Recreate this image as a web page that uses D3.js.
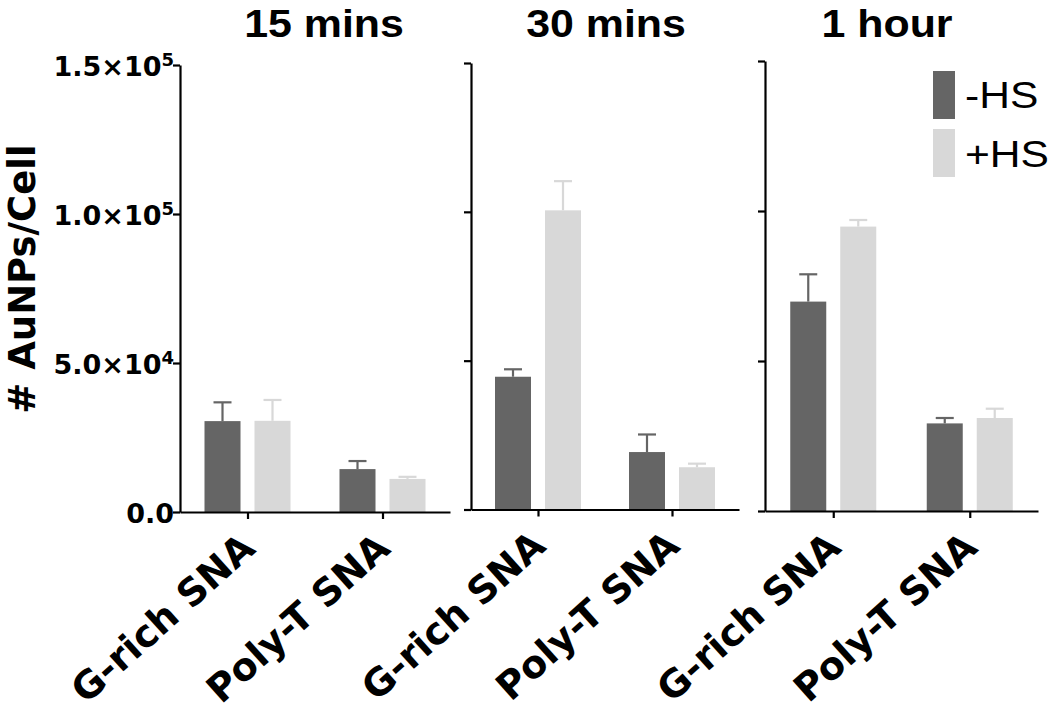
<!DOCTYPE html>
<html><head><meta charset="utf-8">
<script src="https://cdn.jsdelivr.net/npm/d3@7"></script>
<style>body{margin:0;background:#fff}</style>
</head><body>
<svg id="chart" width="1050" height="720"></svg>
<script>
// ---- data ----
const panels = ["15 mins", "30 mins", "1 hour"];
const categories = ["G-rich SNA", "Poly-T SNA"];
const series = ["-HS", "+HS"];
// values per panel: [G-rich, Poly-T]
const meanMinusHS = [[30500, 14400], [44600, 19300], [69800, 29200]];
const meanPlusHS  = [[30600, 11100], [100500, 14200], [94800, 31000]];
const errMinusHS  = [[6300, 2700], [2500, 5900], [9100, 1800]];
const errPlusHS   = [[7000, 700], [9800, 1200], [2200, 3100]];
const yTickValues = [0, 50000, 100000, 150000];
const yTickMantissa = ["0.0", "5.0×10", "1.0×10", "1.5×10"];
const yTickExponent = ["", "4", "5", "5"];
const yMax = 150000;
const yTitle = "# AuNPs/Cell";

// ---- layout ----
const layout = [
  {x0: 180, w: 270, yb: 512, yt: 65, tx: 324},
  {x0: 471, w: 268, yb: 509.5, yt: 63, tx: 606},
  {x0: 765, w: 273, yb: 511, yt: 61, tx: 887}
];
const colors = {"-HS": "#656565", "+HS": "#d8d8d8"};
const capW = 18;

const svg = d3.select("#chart");

panels.forEach((p, pi) => {
  const L = layout[pi];
  const g = svg.append("g");
  const x0 = d3.scalePoint().domain(categories).range([L.x0, L.x0 + L.w]).padding(0.5);
  const x1 = d3.scaleBand().domain(series).range([-50, 50]).paddingInner(0.28).paddingOuter(0.14);
  const y = d3.scaleLinear().domain([0, yMax]).range([L.yb, L.yt]);

  const rows = [];
  categories.forEach((c, ci) => {
    rows.push({c, s: "-HS", v: meanMinusHS[pi][ci], e: errMinusHS[pi][ci]});
    rows.push({c, s: "+HS", v: meanPlusHS[pi][ci], e: errPlusHS[pi][ci]});
  });

  // bars
  g.selectAll("rect.bar").data(rows).join("rect")
    .attr("class", "bar")
    .attr("x", d => x0(d.c) + x1(d.s))
    .attr("width", x1.bandwidth())
    .attr("y", d => y(d.v))
    .attr("height", d => y(0) - y(d.v))
    .attr("fill", d => colors[d.s]);

  // error bars (upper only)
  const eg = g.selectAll("g.err").data(rows).join("g").attr("class", "err")
    .attr("stroke", d => colors[d.s]).attr("stroke-width", 2.2);
  eg.append("line")
    .attr("x1", d => x0(d.c) + x1(d.s) + x1.bandwidth() / 2)
    .attr("x2", d => x0(d.c) + x1(d.s) + x1.bandwidth() / 2)
    .attr("y1", d => y(d.v))
    .attr("y2", d => y(d.v + d.e));
  eg.append("line")
    .attr("x1", d => x0(d.c) + x1(d.s) + x1.bandwidth() / 2 - capW / 2)
    .attr("x2", d => x0(d.c) + x1(d.s) + x1.bandwidth() / 2 + capW / 2)
    .attr("y1", d => y(d.v + d.e))
    .attr("y2", d => y(d.v + d.e));

  // y axis
  const ya = g.append("g").attr("transform", `translate(${L.x0},0)`)
    .call(d3.axisLeft(y).tickValues(yTickValues).tickSize(7).tickSizeOuter(0));
  ya.select(".domain").attr("stroke", "#000").attr("stroke-width", 2.2);
  ya.selectAll(".tick line").attr("stroke", "#000").attr("stroke-width", 2.2);
  ya.selectAll(".tick text").each(function(d, i) {
    const t = d3.select(this);
    t.text(null);
    if (pi !== 0) return;
    t.attr("x", -6).attr("y", 10).attr("dy", 0)
      .attr("text-anchor", "end")
      .attr("font-family", "DejaVu Sans").attr("font-weight", "bold")
      .attr("font-size", 27).attr("fill", "#000");
    const k = yTickValues.indexOf(d);
    t.append("tspan").text(yTickMantissa[k]);
    if (yTickExponent[k]) t.append("tspan").attr("font-size", 18).attr("dy", -10).text(yTickExponent[k]);
  });

  // x axis
  const xa = g.append("g").attr("transform", `translate(0,${L.yb})`)
    .call(d3.axisBottom(x0).tickSize(7).tickSizeOuter(0));
  xa.select(".domain").attr("stroke", "#000").attr("stroke-width", 2.2);
  xa.selectAll(".tick line").attr("stroke", "#000").attr("stroke-width", 2.2);
  xa.selectAll(".tick text")
    .attr("x", 9).attr("y", 39).attr("dy", 0)
    .attr("text-anchor", "end")
    .attr("transform", "rotate(-42 9 39)")
    .attr("font-family", "DejaVu Sans").attr("font-weight", "bold")
    .attr("font-size", 38).attr("fill", "#000");

  // title
  svg.append("text")
    .attr("transform", `translate(${L.tx},37) scale(1.1,1)`)
    .attr("text-anchor", "middle")
    .attr("font-family", "Liberation Sans, Arial, sans-serif")
    .attr("font-weight", "bold").attr("font-size", 39)
    .text(p);
});

// y title
svg.append("text")
  .attr("transform", "translate(35,279) rotate(-90)")
  .attr("text-anchor", "middle")
  .attr("font-family", "DejaVu Sans").attr("font-weight", "bold")
  .attr("font-size", 37)
  .text(yTitle);

// legend
const lg = svg.append("g");
series.forEach((s, i) => {
  lg.append("rect").attr("x", 933).attr("y", 71 + i * 58).attr("width", 22).attr("height", 48)
    .attr("fill", colors[s]);
  lg.append("text")
    .attr("transform", `translate(965,${108 + i * 59}) scale(1.15,1)`)
    .attr("font-family", "Liberation Sans, Arial, sans-serif")
    .attr("font-size", 37).attr("fill", "#000")
    .text(s);
});
</script>
</body></html>
